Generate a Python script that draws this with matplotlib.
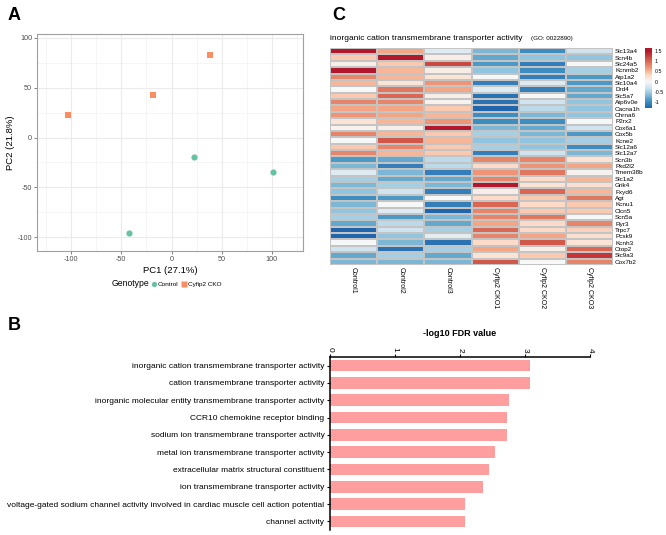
import numpy as np
import matplotlib
matplotlib.use("Agg")
from matplotlib import pyplot as plt
from matplotlib.colors import LinearSegmentedColormap, Normalize
from matplotlib.lines import Line2D

plt.rcParams["font.family"] = ["Liberation Sans", "DejaVu Sans"]
plt.rcParams["axes.unicode_minus"] = False

# ---- panel A: PCA ----
ctrl_pc1 = [22, 101, -42]
ctrl_pc2 = [-20, -35, -96]
cko_pc1 = [-103, -18, 38]
cko_pc2 = [23, 43, 83]

# ---- panel B: GO enrichment ----
go_terms = [
    "inorganic cation transmembrane transporter activity",
    "cation transmembrane transporter activity",
    "inorganic molecular entity transmembrane transporter activity",
    "CCR10 chemokine receptor binding",
    "sodium ion transmembrane transporter activity",
    "metal ion transmembrane transporter activity",
    "extracellular matrix structural constituent",
    "ion transmembrane transporter activity",
    "voltage-gated sodium channel activity involved in cardiac muscle cell action potential",
    "channel activity",
]
go_fdr = [3.07, 3.07, 2.75, 2.73, 2.73, 2.54, 2.45, 2.35, 2.08, 2.08]

# ---- panel C: heatmap (z-scores) ----
samples = ["Control1", "Control2", "Control3", "Cyfip2 CKO1", "Cyfip2 CKO2", "Cyfip2 CKO3"]
genes = ["Slc13a4", "Scn4b", "Slc24a5", "Kcnmb2", "Atp1a2", "Slc10a4", "Drd4", "Slc5a7",
         "Atp6v0e", "Cacna1h", "Chrna6", "P2rx2", "Cox6a1", "Cox5b", "Kcne2", "Slc12a6",
         "Slc12a7", "Scn3b", "Pkd2l2", "Tmem38b", "Slc1a2", "Grik4", "Fxyd6", "Agt",
         "Kcnu1", "Clcn5", "Scn5a", "Ryr3", "Trpc7", "Pcsk9", "Kcnh3", "Otop2", "Slc9a3",
         "Cox7b2"]
zscores = [
    [1.5, 0.6, -0.2, -0.7, -1.0, -0.3],
    [0.4, 1.5, 0.1, -0.8, -0.6, -0.6],
    [0.1, 0.4, 1.2, -0.9, -1.1, 0.0],
    [1.5, 0.5, 0.1, -0.6, -1.0, -0.5],
    [0.8, 0.5, 0.2, 0.0, -1.1, -0.9],
    [0.5, 0.2, 0.7, -1.1, -0.2, -0.9],
    [0.0, 0.9, 0.6, -0.2, -1.1, -0.8],
    [0.4, 1.0, 0.1, -1.2, 0.0, -0.8],
    [0.8, 0.8, 0.05, -1.2, -0.3, -0.6],
    [0.6, 0.6, 0.4, -1.3, -0.4, -0.6],
    [0.7, 0.6, 0.5, -1.0, -0.7, -0.6],
    [0.2, 0.5, 0.7, -1.0, -1.0, 0.0],
    [0.05, 0.1, 1.6, -0.7, -0.8, -0.3],
    [0.8, 0.5, 0.4, -0.5, -0.7, -0.9],
    [0.0, 1.1, 0.5, -0.6, -0.6, -0.5],
    [0.4, 0.8, 0.4, -0.5, -0.6, -1.0],
    [0.8, 0.5, 0.4, -1.1, -0.3, -0.7],
    [-0.9, -0.8, -0.4, 0.8, 0.8, 0.2],
    [-0.7, -1.1, -0.4, 0.3, 0.7, 0.6],
    [-0.2, -0.7, -1.1, 0.7, 0.9, 0.05],
    [-0.5, -0.8, -0.8, 0.8, 0.3, 0.5],
    [-0.7, -0.5, -0.7, 1.6, 0.2, 0.25],
    [-0.6, -0.3, -1.1, 0.1, 1.0, 0.5],
    [-1.0, -0.9, 0.0, 0.3, 0.4, 0.9],
    [-0.7, 0.0, -1.1, 1.0, 0.3, 0.4],
    [-0.6, -0.2, -1.3, 0.8, 0.4, 0.4],
    [-0.5, -0.9, -0.7, 0.8, 0.9, 0.0],
    [-0.8, -0.4, -0.8, 0.6, 0.3, 0.8],
    [-1.3, -0.3, -0.5, 1.0, 0.3, 0.35],
    [-1.3, -0.6, -0.15, 0.8, 0.6, 0.25],
    [0.0, -0.7, -1.2, 0.3, 1.1, 0.2],
    [-0.3, -1.2, -0.5, 0.6, 0.1, 1.0],
    [-0.8, -0.5, -0.8, 0.2, 0.4, 1.3],
    [-0.7, -0.7, -0.7, 1.1, 0.0, 0.8],
]

W, H = 666, 535
fig = plt.figure(figsize=(W / 100, H / 100), dpi=100)


def box(x0, y0, x1, y1):
    # pixel box (top-left origin) -> figure fraction rect
    return [x0 / W, 1 - y1 / H, (x1 - x0) / W, (y1 - y0) / H]


# ---------------- A ----------------
axA = fig.add_axes(box(37, 34, 303, 251))
for v in [-125, -75, -25, 25, 75, 125]:
    axA.axvline(v, color="#F2F2F2", lw=0.5, zorder=0)
for v in [-75, -25, 25, 75]:
    axA.axhline(v, color="#F2F2F2", lw=0.5, zorder=0)
for v in [-100, -50, 0, 50, 100]:
    axA.axvline(v, color="#EBEBEB", lw=0.8, zorder=0)
    axA.axhline(v, color="#EBEBEB", lw=0.8, zorder=0)
axA.scatter(ctrl_pc1, ctrl_pc2, s=20, marker="o", color="#66C2A5", zorder=3, linewidths=0)
axA.scatter(cko_pc1, cko_pc2, s=22, marker="s", color="#FC8D62", zorder=3, linewidths=0)
axA.set_xlim(-134, 131)
axA.set_ylim(-114, 104)
axA.set_xticks([-100, -50, 0, 50, 100])
axA.set_yticks([-100, -50, 0, 50, 100])
axA.tick_params(labelsize=5.2, labelcolor="#4D4D4D", color="#4D4D4D", length=2, width=0.5, pad=1.5)
for s in axA.spines.values():
    s.set_color("#A0A0A0")
    s.set_linewidth(0.8)
axA.set_xlabel("PC1 (27.1%)", fontsize=6.8, labelpad=2)
axA.set_ylabel("PC2 (21.8%)", fontsize=6.8, labelpad=2)

fig.text(112 / W, 1 - 284 / H, "Genotype", fontsize=6.2, va="center", ha="left")
handles = [
    Line2D([], [], ls="", marker="o", ms=3.8, color="#66C2A5", mec="none"),
    Line2D([], [], ls="", marker="s", ms=3.8, color="#FC8D62", mec="none"),
]
fig.legend(handles, ["Control", "Cyfip2 CKO"], loc="center left",
           bbox_to_anchor=(151 / W, 1 - 284 / H), ncol=2, frameon=False,
           fontsize=4.6, handlelength=0.8, handletextpad=0.2, columnspacing=0.5,
           borderpad=0, borderaxespad=0)

# ---------------- C ----------------
vmin, vmax = -1.3, 1.65
stop_vals = [-1.3, -0.95, -0.6, -0.3, 0.0, 0.3, 0.6, 1.05, 1.5, 1.65]
stop_cols = ["#2166AC", "#4393C3", "#92C5DE", "#D1E5F0", "#F7F7F7",
             "#FDDBC7", "#F4A582", "#D6604D", "#B2182B", "#B2182B"]
cmap = LinearSegmentedColormap.from_list(
    "rb", [((v - vmin) / (vmax - vmin), c) for v, c in zip(stop_vals, stop_cols)])
norm = Normalize(vmin, vmax)

axC = fig.add_axes(box(330, 48, 613, 265))
data = np.array(zscores)
mesh = axC.pcolormesh(data, cmap=cmap, norm=norm, edgecolors="#C4C4C4", linewidth=0.3)
axC.set_xlim(0, len(samples))
axC.set_ylim(len(genes), 0)
axC.yaxis.tick_right()
axC.set_yticks(np.arange(len(genes)) + 0.5)
axC.set_yticklabels(genes, fontsize=4.6)
axC.set_xticks(np.arange(len(samples)) + 0.5)
axC.set_xticklabels(samples, fontsize=5.0, rotation=270, va="top", ha="center")
axC.tick_params(length=0, pad=1.5)
for s in axC.spines.values():
    s.set_visible(False)

fig.text(330 / W, 1 - 38 / H, "inorganic cation transmembrane transporter activity",
         fontsize=6.0, va="center", ha="left")
fig.text(531 / W, 1 - 38.5 / H, "(GO: 0022890)", fontsize=4.5, va="center", ha="left")

cax = fig.add_axes(box(645, 48, 652, 108))
cb = fig.colorbar(mesh, cax=cax, ticks=[-1, -0.5, 0, 0.5, 1, 1.5])
cb.outline.set_visible(False)
cb.ax.set_yticklabels(["-1", "-0.5", "0", "0.5", "1", "1.5"])
cb.ax.tick_params(labelsize=3.8, length=0, pad=2)

# ---------------- B ----------------
axB = fig.add_axes(box(330, 357, 590, 530))
ypos = np.arange(len(go_terms))
axB.barh(ypos, go_fdr, height=0.67, color="#FF9E9E")
axB.set_ylim(len(go_terms) - 0.5, -0.5)
axB.set_xlim(0, 4)
axB.set_yticks(ypos)
axB.set_yticklabels(go_terms, fontsize=6.0)
axB.xaxis.tick_top()
axB.xaxis.set_label_position("top")
axB.set_xticks([0, 1, 2, 3, 4])
axB.set_xticklabels(["0", "1", "2", "3", "4"], rotation=270, fontsize=6)
axB.tick_params(axis="y", length=2, width=0.8, pad=2)
axB.tick_params(axis="x", length=2.5, width=0.8, pad=1)
axB.spines["right"].set_visible(False)
axB.spines["bottom"].set_visible(False)
axB.spines["top"].set_linewidth(1.1)
axB.spines["left"].set_linewidth(1.1)
axB.set_xlabel("-log10 FDR value", fontsize=6.5, fontweight="bold", labelpad=8)

# panel letters
for x, y, t in [(8, 16, "A"), (332, 16, "C"), (8, 326, "B")]:
    fig.text(x / W, 1 - y / H, t, fontsize=13, fontweight="bold", va="center", ha="left")

fig.savefig("out.png", dpi=100)
